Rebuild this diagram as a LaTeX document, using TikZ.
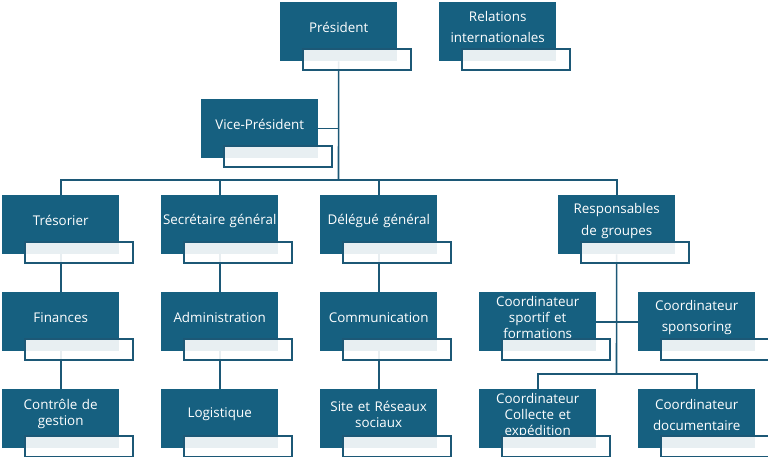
\documentclass[tikz,border=0pt]{standalone}
\usepackage{fontspec}
\setmainfont{Open Sans}
\usetikzlibrary{positioning}
\definecolor{boxblue}{RGB}{22,96,128}
\definecolor{lineblue}{RGB}{28,88,118}
\pgfdeclarelayer{background}
\pgfsetlayers{background,main}
\tikzset{
  unit/.style={fill=boxblue,minimum width=117pt,minimum height=59pt,inner sep=0pt,anchor=north west},
  unittext/.style={text=white,align=center,text width=117pt,inner sep=0pt,font=\fontsize{13.4}{16}\selectfont},
  tag/.style={draw=lineblue,line width=1.6pt,fill=white,fill opacity=0.9,draw opacity=1,minimum width=108pt,minimum height=21pt,inner sep=0pt,anchor=north west},
  link/.style={draw=lineblue,line width=1.6pt}
}
\begin{document}
\begin{tikzpicture}[x=1pt,y=-1pt]
\useasboundingbox (0,0) rectangle (768,457);
%boxes
\node[unit] (pres) at (280,2) {};
\node[unit] (relint) at (439,2) {};
\node[unit] (vice) at (201,99) {};
\node[unit] (treso) at (2,195) {};
\node[unit] (secgen) at (161,195) {};
\node[unit] (delgen) at (320,195) {};
\node[unit] (respgr) at (558,195) {};
\node[unit] (fin) at (2,292) {};
\node[unit] (admin) at (161,292) {};
\node[unit] (comm) at (320,292) {};
\node[unit] (cosport) at (479,292) {};
\node[unit] (cospons) at (638,292) {};
\node[unit] (ctrl) at (2,389) {};
\node[unit] (logi) at (161,389) {};
\node[unit] (site) at (320,389) {};
\node[unit] (cocoll) at (479,389) {};
\node[unit] (codoc) at (638,389) {};
%texts
\node[unittext] (pres-t) at ([yshift=-25.5pt]pres.north) {Président};
\node[unittext] (relint-t) at ([yshift=-25pt]relint.north) {Relations\\[5pt]internationales};
\node[unittext] (vice-t) at ([yshift=-25.5pt]vice.north) {Vice-Président};
\node[unittext] (treso-t) at ([yshift=-25.5pt]treso.north) {Trésorier};
\node[unittext] (secgen-t) at ([yshift=-25.5pt]secgen.north) {Secrétaire général};
\node[unittext] (delgen-t) at ([yshift=-25.5pt]delgen.north) {Délégué général};
\node[unittext] (respgr-t) at ([yshift=-26pt]respgr.north) {Responsables\\[6pt]de groupes};
\node[unittext] (fin-t) at ([yshift=-25.5pt]fin.north) {Finances};
\node[unittext] (admin-t) at ([yshift=-25.5pt]admin.north) {Administration};
\node[unittext] (comm-t) at ([yshift=-25.5pt]comm.north) {Communication};
\node[unittext] (cosport-t) at ([yshift=-25.5pt]cosport.north) {Coordinateur\\sportif et\\formations};
\node[unittext] (cospons-t) at ([yshift=-25.5pt]cospons.north) {Coordinateur\\[5pt]sponsoring};
\node[unittext] (ctrl-t) at ([yshift=-25pt]ctrl.north) {Contrôle de\\gestion};
\node[unittext] (logi-t) at ([yshift=-25.5pt]logi.north) {Logistique};
\node[unittext] (site-t) at ([yshift=-25pt]site.north) {Site et Réseaux\\sociaux};
\node[unittext] (cocoll-t) at ([yshift=-27pt]cocoll.north) {Coordinateur\\Collecte et\\expédition};
\node[unittext] (codoc-t) at ([yshift=-25.5pt]codoc.north) {Coordinateur\\[5pt]documentaire};
%white tags
\foreach \n in {pres,relint,vice,treso,secgen,delgen,respgr,fin,admin,comm,cosport,cospons,ctrl,logi,site,cocoll,codoc}
  \node[tag] (\n-tag) at ([xshift=22pt,yshift=-46pt]\n.north west) {};
%links
\coordinate (bus) at (338.5,180);
\coordinate (cobus) at (616.5,374);
\begin{pgfonlayer}{background}
\draw[link] (pres) -- (bus);
\draw[link] (vice) -- (vice -| pres);
\draw[link] (treso) |- (bus) -| (respgr);
\draw[link] (secgen) -- (secgen |- bus);
\draw[link] (delgen) -- (delgen |- bus);
\draw[link] (treso) -- (fin) -- (ctrl);
\draw[link] (secgen) -- (admin) -- (logi);
\draw[link] (delgen) -- (comm) -- (site);
\draw[link] (respgr) -- (cobus);
\draw[link] (cosport) -- (cospons);
\draw[link] (cocoll) |- (cobus) -| (codoc);
\end{pgfonlayer}
\end{tikzpicture}
\end{document}
